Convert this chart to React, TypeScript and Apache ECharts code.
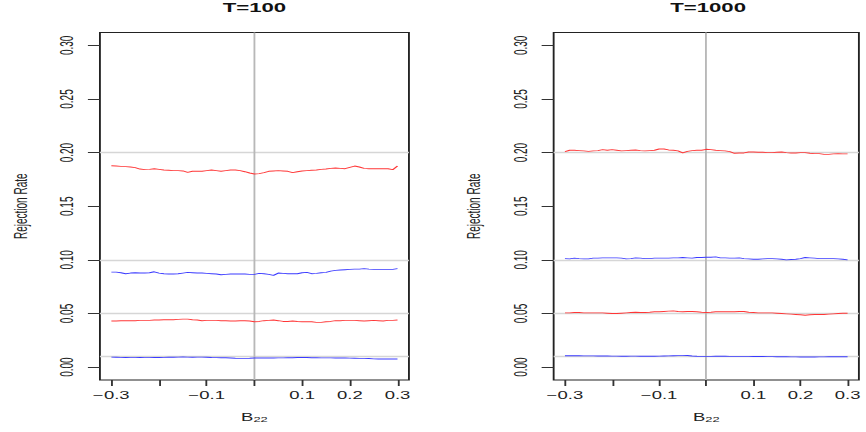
import React, { useEffect, useRef } from "react";
import * as echarts from "echarts";

// ---- data ----
const xValues = [
  -0.3, -0.29, -0.28, -0.27, -0.26, -0.25, -0.24, -0.23, -0.22, -0.21,
  -0.2, -0.19, -0.18, -0.17, -0.16, -0.15, -0.14, -0.13, -0.12, -0.11,
  -0.1, -0.09, -0.08, -0.07, -0.06, -0.05, -0.04, -0.03, -0.02, -0.01,
  0, 0.01, 0.02, 0.03, 0.04, 0.05, 0.06, 0.07, 0.08, 0.09,
  0.1, 0.11, 0.12, 0.13, 0.14, 0.15, 0.16, 0.17, 0.18, 0.19,
  0.2, 0.21, 0.22, 0.23, 0.24, 0.25, 0.26, 0.27, 0.28, 0.29,
  0.3,
];

const panelTitles = ["T=100", "T=1000"];

// T=100
const red20_T100 = [
  0.1878, 0.1875, 0.1872, 0.1869, 0.1866, 0.186, 0.1847, 0.1841, 0.1844, 0.185,
  0.1844, 0.1838, 0.1835, 0.1832, 0.1832, 0.1829, 0.1816, 0.1826, 0.1826, 0.1826,
  0.1832, 0.1838, 0.1832, 0.1826, 0.1832, 0.1838, 0.1838, 0.1832, 0.1822, 0.181,
  0.1801, 0.1804, 0.1813, 0.1826, 0.1829, 0.1832, 0.1829, 0.1826, 0.1813, 0.1822,
  0.1829, 0.1832, 0.1835, 0.1838, 0.1844, 0.1847, 0.1853, 0.1856, 0.1853, 0.185,
  0.1863, 0.1875, 0.1866, 0.1853, 0.185, 0.185, 0.185, 0.185, 0.185, 0.1841,
  0.1875,
];
const blue10_T100 = [
  0.0886, 0.0886, 0.088, 0.0871, 0.0877, 0.088, 0.0877, 0.0877, 0.088, 0.0889,
  0.0877, 0.0871, 0.0868, 0.0868, 0.0871, 0.0877, 0.0883, 0.088, 0.0877, 0.0877,
  0.0874, 0.0871, 0.0868, 0.0861, 0.0865, 0.0868, 0.0868, 0.0868, 0.0868, 0.0865,
  0.0865, 0.0874, 0.0871, 0.0865, 0.0855, 0.0877, 0.0874, 0.0871, 0.0871, 0.0871,
  0.088, 0.0883, 0.0871, 0.0874, 0.088, 0.0883, 0.0895, 0.0902, 0.0905, 0.0908,
  0.0911, 0.0914, 0.0914, 0.0918, 0.0914, 0.0911, 0.0911, 0.0911, 0.0911, 0.0911,
  0.0918,
];
const red05_T100 = [
  0.043, 0.043, 0.0433, 0.0433, 0.0433, 0.0433, 0.0436, 0.0436, 0.0436, 0.0439,
  0.0439, 0.0442, 0.0442, 0.0442, 0.0445, 0.0448, 0.0448, 0.0442, 0.0439, 0.0433,
  0.0436, 0.0436, 0.0436, 0.0433, 0.0433, 0.043, 0.043, 0.0433, 0.0433, 0.043,
  0.0423, 0.0426, 0.0433, 0.0436, 0.0439, 0.0433, 0.0426, 0.0426, 0.043, 0.0426,
  0.0423, 0.0423, 0.0423, 0.0417, 0.0417, 0.0423, 0.0426, 0.0433, 0.0433, 0.0436,
  0.0436, 0.0436, 0.0433, 0.043, 0.0433, 0.0436, 0.0433, 0.043, 0.0436, 0.0436,
  0.0439,
];
const blue01_T100 = [
  0.0093, 0.0092, 0.0091, 0.009, 0.0089, 0.0089, 0.009, 0.0091, 0.0091, 0.009,
  0.009, 0.0091, 0.0092, 0.0092, 0.0093, 0.0094, 0.0093, 0.0092, 0.0093, 0.0093,
  0.0092, 0.009, 0.0089, 0.0088, 0.0087, 0.0085, 0.0083, 0.0082, 0.0082, 0.0083,
  0.0085, 0.0085, 0.0085, 0.0085, 0.0085, 0.0086, 0.0086, 0.0087, 0.0088, 0.009,
  0.0091, 0.009, 0.0088, 0.0087, 0.0086, 0.0086, 0.0086, 0.0085, 0.0085, 0.0085,
  0.0084, 0.0083, 0.0082, 0.0082, 0.008, 0.0077, 0.0076, 0.0076, 0.0076, 0.0076,
  0.0076,
];

// T=1000
const red20_T1000 = [
  0.2009, 0.2022, 0.2022, 0.2019, 0.2016, 0.2012, 0.2016, 0.2019, 0.2028, 0.2022,
  0.2028, 0.2022, 0.2016, 0.2019, 0.2022, 0.2025, 0.2019, 0.2016, 0.2019, 0.2022,
  0.2034, 0.2034, 0.2025, 0.2022, 0.2016, 0.1997, 0.2012, 0.2019, 0.2022, 0.2022,
  0.2031, 0.2028, 0.2022, 0.2019, 0.2016, 0.2009, 0.1994, 0.1997, 0.1997, 0.2006,
  0.2006, 0.2003, 0.2003, 0.2, 0.2, 0.2003, 0.2006, 0.2, 0.1997, 0.1997,
  0.2, 0.2, 0.1994, 0.1991, 0.1991, 0.1984, 0.1984, 0.1988, 0.1991, 0.1988,
  0.1988,
];
const blue10_T1000 = [
  0.1012, 0.1009, 0.1016, 0.1012, 0.1009, 0.1009, 0.1016, 0.1016, 0.1019, 0.1019,
  0.1019, 0.1019, 0.1016, 0.1009, 0.1012, 0.1019, 0.1016, 0.1012, 0.1012, 0.1016,
  0.1016, 0.1016, 0.1016, 0.1019, 0.1019, 0.1022, 0.1019, 0.1016, 0.1022, 0.1022,
  0.1025, 0.1025, 0.1028, 0.1019, 0.1019, 0.1016, 0.1016, 0.1019, 0.1012, 0.1009,
  0.1006, 0.1006, 0.1009, 0.1012, 0.1012, 0.1009, 0.1006, 0.1, 0.1003, 0.1006,
  0.1012, 0.1022, 0.1019, 0.1016, 0.1012, 0.1012, 0.1012, 0.1012, 0.1009, 0.1006,
  0.1,
];
const red05_T1000 = [
  0.0506, 0.0506, 0.0509, 0.0509, 0.0506, 0.0506, 0.0506, 0.0506, 0.0506, 0.0503,
  0.05, 0.05, 0.0503, 0.0506, 0.0509, 0.0512, 0.0509, 0.0509, 0.0512, 0.0516,
  0.0516, 0.0519, 0.0522, 0.0525, 0.0519, 0.0516, 0.0519, 0.0519, 0.0516, 0.0512,
  0.0509, 0.0512, 0.0516, 0.0516, 0.0516, 0.0516, 0.0516, 0.0519, 0.0519, 0.0512,
  0.0509, 0.0506, 0.0506, 0.0506, 0.0506, 0.0503, 0.05, 0.0497, 0.0494, 0.0491,
  0.0488, 0.0484, 0.0488, 0.0491, 0.0491, 0.0491, 0.0494, 0.0497, 0.05, 0.0503,
  0.0503,
];
const blue01_T1000 = [
  0.0106, 0.0106, 0.0106, 0.0106, 0.0105, 0.0105, 0.0105, 0.0104, 0.0104, 0.0104,
  0.0103, 0.0103, 0.0102, 0.0102, 0.0103, 0.0103, 0.0102, 0.0101, 0.0101, 0.0102,
  0.0103, 0.0104, 0.0105, 0.0106, 0.0107, 0.0107, 0.0108, 0.0104, 0.0101, 0.01,
  0.01, 0.01, 0.0101, 0.0101, 0.0101, 0.01, 0.01, 0.01, 0.01, 0.01,
  0.0099, 0.0099, 0.0099, 0.0098, 0.0098, 0.0097, 0.0097, 0.0097, 0.0096, 0.0096,
  0.0095, 0.0094, 0.0094, 0.0095, 0.0096, 0.0096, 0.0097, 0.0097, 0.0097, 0.0097,
  0.0097,
];

const xTicks = [-0.3, -0.2, -0.1, 0, 0.1, 0.2, 0.3];
const xTickLabels = [-0.3, -0.1, 0.1, 0.2, 0.3];
const yTicks = [0, 0.05, 0.1, 0.15, 0.2, 0.25, 0.3];
const refLevels = [0.01, 0.05, 0.1, 0.2];
const refX = 0;

const panels = [
  { title: panelTitles[0], red: [red20_T100, red05_T100], blue: [blue10_T100, blue01_T100] },
  { title: panelTitles[1], red: [red20_T1000, red05_T1000], blue: [blue10_T1000, blue01_T1000] },
];

// ---- layout (inner, unstretched coordinates) ----
const OUT_W = 866;
const H = 432;
const INNER_W = 468;
const STRETCH = OUT_W / INNER_W;
const FONT = "'Liberation Sans', Arial, Helvetica, sans-serif";
const gridBoxes = [
  { left: 54.0, width: 167.0 },
  { left: 299.2, width: 166.9 },
];
const GRID_TOP = 32.5;
const GRID_H = 347.5;
const RED = "#ff3636";
const BLUE = "#3a3aff";

function fmtX(v: number) {
  const s = Math.abs(v).toFixed(1);
  return v < 0 ? "\u2212" + s : s;
}

function buildOption() {
  const grid = gridBoxes.map((g) => ({
    left: g.left,
    width: g.width,
    top: GRID_TOP,
    height: GRID_H,
    show: true,
    borderColor: "#222",
    borderWidth: 1,
    backgroundColor: "transparent",
  }));

  const xAxis = gridBoxes.map((_, i) => ({
    type: "value",
    gridIndex: i,
    min: -0.324,
    max: 0.324,
    axisLine: { show: false, onZero: false },
    splitLine: { show: false },
    axisTick: { show: true, length: 6, customValues: xTicks, lineStyle: { color: "#333", width: 1 } },
    axisLabel: {
      customValues: xTickLabels,
      margin: 11,
      fontSize: 10,
      fontFamily: FONT,
      color: "#222",
      formatter: (v: number) => fmtX(v),
    },
    name: "{b|B}{s|22}",
    nameLocation: "middle",
    nameGap: 33,
    nameTextStyle: {
      rich: {
        b: { fontSize: 10, fontFamily: FONT, color: "#222", verticalAlign: "bottom" },
        s: { fontSize: 7, fontFamily: FONT, color: "#222", verticalAlign: "bottom" },
      },
    },
  }));

  const yAxis = gridBoxes.map((_, i) => ({
    type: "value",
    gridIndex: i,
    min: -0.012,
    max: 0.312,
    axisLine: { show: false, onZero: false },
    splitLine: { show: false },
    axisTick: { show: true, length: 6.5, customValues: yTicks, lineStyle: { color: "#333", width: 1 } },
    axisLabel: {
      customValues: yTicks,
      rotate: 90,
      margin: 13,
      fontSize: 10,
      fontFamily: FONT,
      color: "#222",
      formatter: (v: number) => v.toFixed(2),
    },
    name: "Rejection Rate",
    nameLocation: "middle",
    nameRotate: 90,
    nameGap: 38,
    nameTextStyle: { fontSize: 10, fontFamily: FONT, color: "#222" },
  }));

  const series: any[] = [];
  panels.forEach((p, i) => {
    series.push({
      type: "line",
      xAxisIndex: i,
      yAxisIndex: i,
      data: [],
      silent: true,
      z: 1,
      markLine: {
        silent: true,
        z: 1,
        symbol: ["none", "none"],
        label: { show: false },
        animation: false,
        lineStyle: { color: "#d6d6d6", width: 1.3, type: "solid" },
        data: [
          ...refLevels.map((v) => ({ yAxis: v })),
          { xAxis: refX, lineStyle: { color: "#b8b8b8", width: 1, type: "solid" } },
        ],
      },
    });
    const lines = [
      { d: p.red[0], c: RED },
      { d: p.blue[0], c: BLUE },
      { d: p.red[1], c: RED },
      { d: p.blue[1], c: BLUE },
    ];
    lines.forEach((l) => {
      series.push({
        type: "line",
        xAxisIndex: i,
        yAxisIndex: i,
        data: xValues.map((x, k) => [x, l.d[k]]),
        showSymbol: false,
        symbol: "none",
        silent: true,
        z: 6,
        lineStyle: { color: l.c, width: 0.9 },
      });
    });
  });

  const title = panels.map((p, i) => ({
    text: p.title,
    left: gridBoxes[i].left + gridBoxes[i].width / 2,
    top: 2,
    textAlign: "center",
    padding: 0,
    textStyle: { fontSize: 12, fontWeight: "bold", fontFamily: FONT, color: "#111" },
  }));

  return {
    animation: false,
    backgroundColor: "#ffffff",
    title,
    grid,
    xAxis,
    yAxis,
    series,
  };
}

export default function App() {
  const ref = useRef<HTMLDivElement>(null);
  useEffect(() => {
    document.body.style.margin = "0";
    const el = ref.current!;
    const chart = echarts.init(el, null, { renderer: "svg", width: INNER_W, height: H });
    chart.setOption(buildOption() as any);
    return () => chart.dispose();
  }, []);
  return (
    <div style={{ width: OUT_W, height: H, overflow: "hidden", background: "#fff" }}>
      <div
        ref={ref}
        style={{
          width: INNER_W,
          height: H,
          transform: `scaleX(${STRETCH})`,
          transformOrigin: "0 0",
        }}
      />
    </div>
  );
}
